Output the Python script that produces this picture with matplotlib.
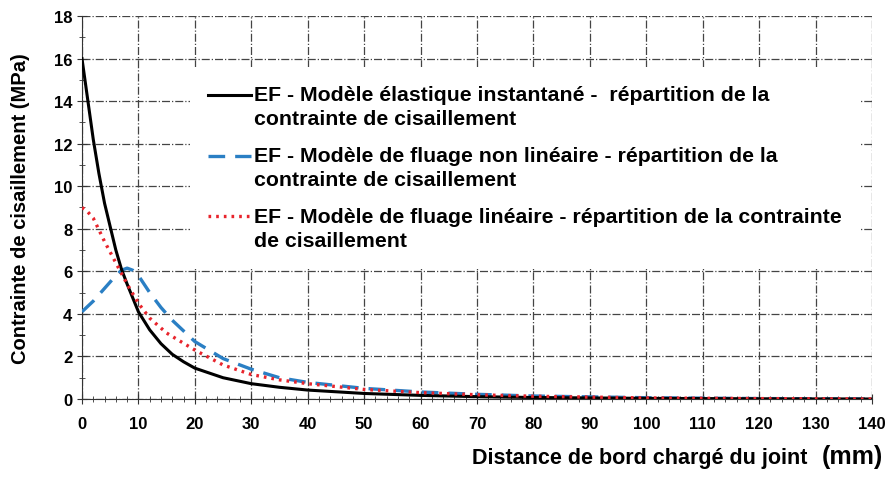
import matplotlib
matplotlib.use('Agg')
import matplotlib.pyplot as plt
import numpy as np
from matplotlib.lines import Line2D
from matplotlib.legend_handler import HandlerLine2D
from matplotlib.ticker import MultipleLocator

# Distance (mm) and shear stress (MPa)
x_elast = [0, 1, 2, 3, 4, 5, 6, 7, 8, 10, 12, 14, 16, 18, 20, 25, 30, 35, 40, 50, 60, 70, 80, 100, 120, 140]
y_elast = [16.0, 14.1, 12.2, 10.6, 9.2, 8.1, 7.0, 6.1, 5.4, 4.1, 3.25, 2.6, 2.1, 1.75, 1.45, 1.0, 0.72, 0.55, 0.42, 0.26, 0.17, 0.11, 0.07, 0.03, 0.01, 0.0]

x_nonlin = [0, 2, 4, 6, 7, 8, 9, 10, 12, 14, 16, 18, 20, 25, 30, 35, 40, 50, 60, 70, 80, 100, 120, 140]
y_nonlin = [4.1, 4.6, 5.2, 5.8, 6.05, 6.15, 6.05, 5.8, 5.0, 4.3, 3.7, 3.2, 2.7, 1.9, 1.4, 1.0, 0.78, 0.5, 0.33, 0.22, 0.14, 0.06, 0.02, 0.0]

x_lin = [0, 1, 2, 4, 6, 8, 10, 12, 15, 20, 25, 30, 35, 40, 50, 60, 70, 80, 100, 120, 140]
y_lin = [9.0, 8.8, 8.5, 7.4, 6.4, 5.4, 4.5, 3.8, 3.1, 2.3, 1.6, 1.15, 0.9, 0.72, 0.45, 0.3, 0.2, 0.13, 0.05, 0.02, 0.0]

lab_elast = 'EF - Modèle élastique instantané -  répartition de la\ncontrainte de cisaillement'
lab_nonlin = 'EF - Modèle de fluage non linéaire - répartition de la\ncontrainte de cisaillement'
lab_lin = 'EF - Modèle de fluage linéaire - répartition de la contrainte\nde cisaillement'


class TopLineHandler(HandlerLine2D):
    # put the legend sample next to the first text line instead of the middle
    def create_artists(self, legend, orig_handle, xdescent, ydescent, width, height, fontsize, trans):
        arts = super().create_artists(legend, orig_handle, xdescent, ydescent, width, height, fontsize, trans)
        for a in arts:
            a.set_ydata(np.asarray(a.get_ydata()) + 8.5)
        return arts


plt.rcParams['font.family'] = ['Liberation Sans', 'DejaVu Sans']
plt.rcParams['font.weight'] = 'bold'
plt.rcParams['axes.labelweight'] = 'bold'

fig = plt.figure(figsize=(8.93, 4.81), dpi=100)
ax = fig.add_axes([0.0918, 0.1684, 0.8847, 0.7963])

ax.plot(x_elast, y_elast, color='black', lw=2.2, label=lab_elast, zorder=4)
ax.plot(x_nonlin, y_nonlin, color='#2a7fc4', lw=2.4, ls=(0, (5, 3)), label=lab_nonlin, zorder=3)
ax.plot(x_lin, y_lin, color='#e8242c', lw=2.4, ls=(0, (0.8, 1.5)), label=lab_lin, zorder=5)

ax.set_xlim(0, 140)
ax.set_ylim(0, 18)
ax.xaxis.set_major_locator(MultipleLocator(10))
ax.xaxis.set_minor_locator(MultipleLocator(2))
ax.yaxis.set_major_locator(MultipleLocator(2))
ax.yaxis.set_minor_locator(MultipleLocator(1))
ax.tick_params(which='both', direction='inout', colors='#333333', labelcolor='black', labelsize=12)
ax.tick_params(which='major', length=7)
ax.tick_params(which='minor', length=5)
ax.tick_params(axis='x', pad=9)
ax.grid(True, which='major', color='#444444', ls='-.', lw=0.9)

ax.spines['top'].set_visible(False)
ax.spines['right'].set_visible(False)
ax.spines['left'].set_color('#333333')
ax.spines['bottom'].set_color('#333333')

ax.set_ylabel('Contrainte de cisaillement (MPa)', fontsize=14.5, labelpad=17)

fig.text(0.904, 0.035, 'Distance de bord chargé du joint', fontsize=15.5, ha='right', va='baseline')
fig.text(0.989, 0.035, '(mm)', fontsize=18, ha='right', va='baseline')

# legend sits on an opaque white box that hides the grid behind it
leg = ax.legend(loc='upper left', bbox_to_anchor=(0.1367, 0.867), frameon=True,
                facecolor='white', edgecolor='none', framealpha=1, fancybox=False,
                fontsize=15.3, handlelength=2.0, handletextpad=0.15, labelspacing=0.85,
                borderpad=0.85, borderaxespad=0, handler_map={Line2D: TopLineHandler()})
leg.set_zorder(10)
for t in leg.get_texts():
    t.set_linespacing(1.32)

fig.savefig('out.png', dpi=100)
